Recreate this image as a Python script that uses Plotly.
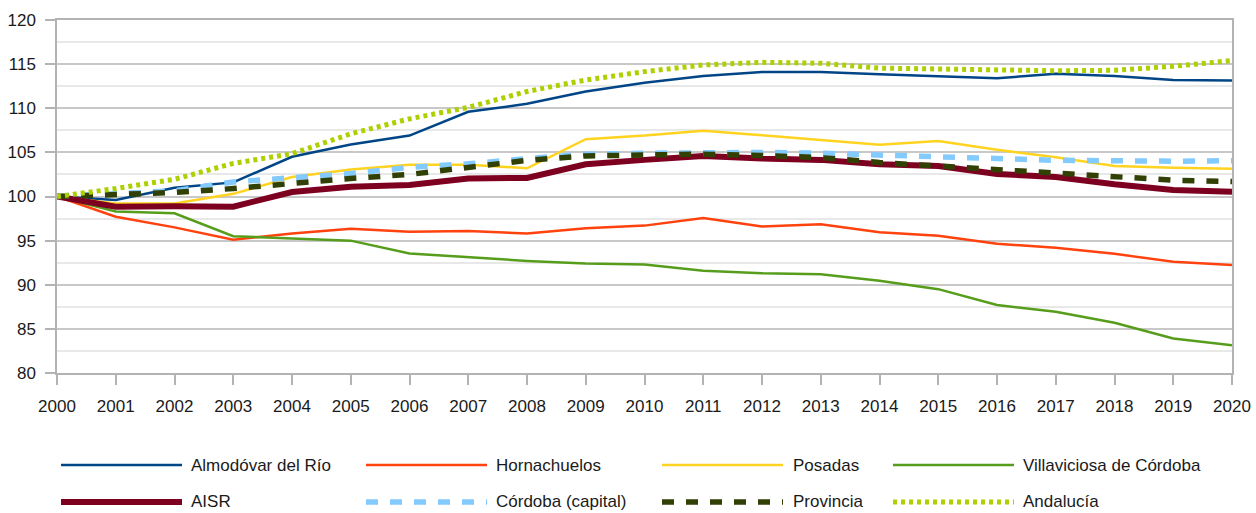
import plotly.graph_objects as go

years = list(range(2000, 2021))

almodovar = [100, 99.6, 101.0, 101.6, 104.5, 105.9, 106.9, 109.6, 110.5, 111.9, 112.9,
             113.65, 114.1, 114.1, 113.85, 113.6, 113.4, 113.9, 113.65, 113.2, 113.15]
hornachuelos = [100, 97.7, 96.5, 95.1, 95.8, 96.35, 96.0, 96.1, 95.8, 96.4, 96.7,
                97.55, 96.6, 96.85, 95.95, 95.55, 94.65, 94.2, 93.5, 92.6, 92.25]
posadas = [100, 99.2, 99.2, 100.3, 102.2, 103.05, 103.6, 103.6, 103.2, 106.5, 106.9,
           107.45, 106.95, 106.4, 105.85, 106.3, 105.3, 104.45, 103.45, 103.25, 103.15]
villaviciosa = [100, 98.3, 98.1, 95.5, 95.25, 95.0, 93.55, 93.15, 92.7, 92.4, 92.3,
                91.6, 91.3, 91.2, 90.45, 89.5, 87.7, 86.95, 85.7, 83.9, 83.15]
aisr = [100, 98.85, 98.9, 98.85, 100.5, 101.1, 101.3, 102.05, 102.1, 103.65, 104.15,
        104.6, 104.3, 104.15, 103.65, 103.45, 102.55, 102.2, 101.4, 100.75, 100.55]
cordoba = [100, 100.25, 100.65, 101.65, 102.1, 102.6, 103.3, 103.7, 104.3, 104.8, 104.9,
           105.0, 105.0, 104.9, 104.65, 104.5, 104.3, 104.1, 104.0, 104.0, 104.05]
provincia = [100, 100.15, 100.45, 100.9, 101.5, 102.05, 102.5, 103.3, 104.1, 104.6, 104.7,
             104.8, 104.65, 104.4, 103.85, 103.45, 103.0, 102.55, 102.15, 101.85, 101.7]
andalucia = [100, 100.9, 101.95, 103.75, 104.85, 107.1, 108.8, 110.1, 111.9, 113.2, 114.15,
             114.9, 115.2, 115.1, 114.55, 114.45, 114.35, 114.25, 114.3, 114.75, 115.4]

# name, values, colour, width, dash
series = [
    ("Almodóvar del Río", almodovar, "#004586", 2.5, "solid"),
    ("Hornachuelos", hornachuelos, "#ff420e", 2.5, "solid"),
    ("Posadas", posadas, "#ffd320", 2.5, "solid"),
    ("Villaviciosa de Córdoba", villaviciosa, "#579d1c", 2.5, "solid"),
    ("AISR", aisr, "#7e0021", 6, "solid"),
    ("Córdoba (capital)", cordoba, "#83caff", 5.5, "12px,12px"),
    ("Provincia", provincia, "#314004", 5.5, "12px,12px"),
    ("Andalucía", andalucia, "#aecf00", 5, "4px,4px"),
]

W, H = 1256, 513
L, R, T, B = 57, 24, 20, 140
FONT = "Liberation Sans, Arial, sans-serif"

fig = go.Figure()
for name, vals, color, width, dash in series:
    fig.add_trace(go.Scatter(x=years, y=vals, name=name, mode="lines",
                             line=dict(color=color, width=width, dash=dash)))


# legend drawn by hand: pixel -> paper coords
def px(x):
    return (x - L) / (W - L - R)


def py(y):
    return (H - B - y) / (H - T - B)


cols = [(61, 182, 189), (366, 487, 494), (662, 783, 791), (893, 1014, 1021)]
rows = [465, 502]
shapes = []
annotations = []
for i, (name, vals, color, width, dash) in enumerate(series):
    x0, x1, xt = cols[i % 4]
    y = rows[i // 4]
    shapes.append(dict(type="line", xref="paper", yref="paper",
                       x0=px(x0), x1=px(x1), y0=py(y), y1=py(y),
                       line=dict(color=color, width=width, dash=dash)))
    annotations.append(dict(text=name, xref="paper", yref="paper", x=px(xt), y=py(y),
                            xanchor="left", yanchor="middle", showarrow=False,
                            font=dict(size=17, color="#1a1a1a", family=FONT)))

fig.update_layout(
    width=W, height=H,
    margin=dict(l=L, r=R, t=T, b=B, autoexpand=False),
    plot_bgcolor="white", paper_bgcolor="white",
    showlegend=False,
    font=dict(family=FONT, size=17, color="#1a1a1a"),
    shapes=shapes, annotations=annotations,
)
fig.update_xaxes(range=[2000, 2020], dtick=1, tick0=2000, showgrid=False, automargin=False,
                 showline=True, linecolor="#b3b3b3", linewidth=1.5, mirror=True,
                 ticks="outside", ticklen=10, tickcolor="#b3b3b3", tickwidth=1.5,
                 ticklabelstandoff=7, zeroline=False)
fig.update_yaxes(range=[80, 120], dtick=5, tick0=80, showgrid=True, gridcolor="#c8c8c8",
                 gridwidth=1.5, showline=True, linecolor="#b3b3b3", linewidth=1.5, mirror=True,
                 ticks="outside", ticklen=10, tickcolor="#b3b3b3", tickwidth=1.5,
                 ticklabelstandoff=6, zeroline=False, automargin=False,
                 minor=dict(dtick=2.5, showgrid=True, gridcolor="#e8e8e8", gridwidth=1.5))

# drop the page's default body margin so the figure sits at the window corner
fig.write_html("out.html", config={"displayModeBar": False},
               post_script="document.body.style.margin='0';")
